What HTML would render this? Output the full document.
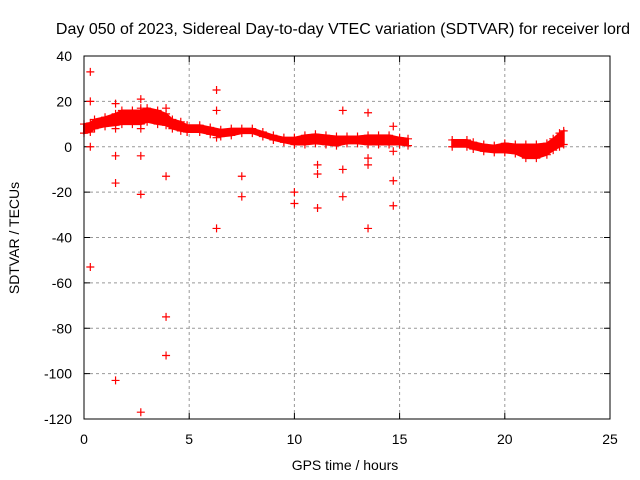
<!DOCTYPE html>
<html><head><meta charset="utf-8"><style>
body{margin:0;background:#fff}
svg{display:block;font-family:"Liberation Sans",sans-serif}
</style></head><body>
<svg id="c" width="640" height="480">
<rect width="640" height="480" fill="#fff"/>
<text x="343" y="34" font-size="16" text-anchor="middle">Day 050 of 2023, Sidereal Day-to-day VTEC variation (SDTVAR) for receiver lord</text>
<text x="345" y="470" font-size="14" text-anchor="middle">GPS time / hours</text>
<text transform="translate(19,238) rotate(-90)" font-size="14" text-anchor="middle">SDTVAR / TECUs</text>
<g id="grid"></g><g id="marks"></g>
<rect x="84" y="56" width="526" height="363" fill="none" stroke="#000" stroke-width="1"/>
</svg>
<script>
const xTicks=[0,5,10,15,20,25];
const yTicks=[40,20,0,-20,-40,-60,-80,-100,-120];
const bandT=[0,0.3,0.5,1.0,1.5,1.8,2.3,2.7,3.0,3.5,3.9,4.2,4.6,4.9,5.5,6.0,6.5,7.0,7.5,8.0,8.5,9.0,9.5,10.0,10.5,11.0,11.5,12.0,12.5,13.0,13.5,14.0,14.5,15.0,15.4];
const bandV=[8,8.5,10,11,12,13,13,13,14,13,12,10,9,8,8,7,6,6.5,7,7,5.5,4,3,2.5,3,3.5,3,2.5,3,3,3,3,3,2.5,2];
const bandH=[2,2,2,2,2.5,3,3,3,3,3,2.5,2,2,1.5,1.5,1.5,1.5,1.5,1,1,1,1,1,1.5,2,2,2,2,1.5,1.5,2,2,2,1.5,1.5];
const band2T=[17.5,18.2,18.5,19.0,19.5,20.0,20.5,21.0,21.5,22.0,22.3,22.6,22.8];
const band2V=[1.5,1.5,0.5,-0.5,-1,-0.5,-1,-2,-2,-1,1,3,4];
const band2H=[1.5,1.5,1.5,1.5,1.5,2,2,3,3,2.5,2.5,3,3];
const outT=[0.3,0.3,0.3,0.3,1.5,1.5,1.5,1.5,1.5,2.7,2.7,2.7,2.7,2.7,2.7,3.9,3.9,3.9,3.9,6.3,6.3,6.3,6.3,7.5,7.5,10,10,11.1,11.1,11.1,12.3,12.3,12.3,13.5,13.5,13.5,13.5,14.7,14.7,14.7,14.7];
const outV=[33,20,0,-53,19,8,-4,-16,-103,21,17,8,-4,-21,-117,17,-13,-75,-92,25,16,4,-36,-13,-22,-20,-25,-8,-12,-27,16,-10,-22,15,-5,-8,-36,9,-2,-15,-26];
const X=t=>84+t*526/25, Y=v=>56+(40-v)*363/160;
const NS="http://www.w3.org/2000/svg";
const grid=document.getElementById('grid'), marks=document.getElementById('marks');
function mk(tag,attrs,parent){const e=document.createElementNS(NS,tag);for(const k in attrs)e.setAttribute(k,attrs[k]);parent.appendChild(e);return e;}
xTicks.forEach(t=>{
  const x=X(t);
  if(t>0&&t<25){const l=mk('line',{x1:x,x2:x,y1:56,y2:419,stroke:'#999','stroke-dasharray':'3,3'},grid);
  
  }
  mk('line',{x1:x,x2:x,y1:419,y2:413,stroke:'#000'},grid);mk('line',{x1:x,x2:x,y1:56,y2:62,stroke:'#000'},grid);
  const tx=mk('text',{x:x,y:444,'font-size':14,'text-anchor':'middle'},grid);tx.textContent=t;
  
  
});
yTicks.forEach(v=>{
  const y=Y(v);
  if(v<40&&v>-120){const l=mk('line',{x1:84,x2:610,y1:y,y2:y,stroke:'#999','stroke-dasharray':'3,3'},grid);
  
  }
  mk('line',{x1:84,x2:90,y1:y,y2:y,stroke:'#000'},grid);mk('line',{x1:610,x2:604,y1:y,y2:y,stroke:'#000'},grid);
  const tx=mk('text',{x:72,y:y+5,'font-size':14,'text-anchor':'end'},grid);tx.textContent=v;
  
  
});
function plus(t,v){const x=X(t),y=Y(v);
  const p=mk('path',{d:`M${x-4},${y}h8M${x},${y-4}v8`,stroke:'#f00','stroke-width':1.2,fill:'none'},marks);
  
  }
function band(T,V,H,name){
  let d='M'+T.map((t,i)=>X(t)+','+Y(V[i]+H[i])).join('L');
  d+='L'+T.slice().reverse().map((t,j)=>{const i=T.length-1-j;return X(t)+','+Y(V[i]-H[i]);}).join('L')+'Z';
  const p=mk('path',{d:d,fill:'#f00',stroke:'#f00','stroke-width':2},marks);
  
  
  T.forEach((t,i)=>{plus(t,V[i]+H[i]);plus(t,V[i]-H[i]);});
}
band(bandT,bandV,bandH,'sdtvar-band-1');
band(band2T,band2V,band2H,'sdtvar-band-2');
outT.forEach((t,i)=>plus(t,outV[i]));
</script>
</body></html>
